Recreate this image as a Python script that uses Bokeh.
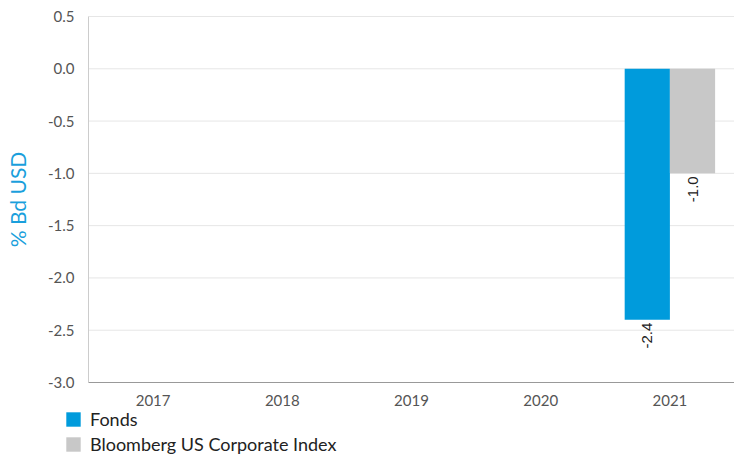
from bokeh.plotting import figure
from bokeh.models import ColumnDataSource, FixedTicker, Legend, LegendItem, CustomJSTickFormatter, Range1d
from bokeh.core.properties import value
from bokeh.embed import file_html
from bokeh.resources import INLINE
import math

years = ["2017", "2018", "2019", "2020", "2021"]
fonds = [float("nan"), float("nan"), float("nan"), float("nan"), -2.4]
index_vals = [float("nan"), float("nan"), float("nan"), float("nan"), -1.0]
y_ticks = [0.5, 0.0, -0.5, -1.0, -1.5, -2.0, -2.5, -3.0]
series_names = ["Fonds", "Bloomberg US Corporate Index"]
colors = ["#009bdc", "#c8c8c8"]

BAR_W = 0.35
centers = [i + 0.5 for i in range(len(years))]
src = ColumnDataSource(dict(
    xc=centers,
    x1=[c - BAR_W / 2 for c in centers],
    x2=[c + BAR_W / 2 for c in centers],
    fonds=fonds, index=index_vals,
    fonds_lbl=["" if math.isnan(v) else f"{v:.1f}" for v in fonds],
    index_lbl=["" if math.isnan(v) else f"{v:.1f}" for v in index_vals],
))

W, H = 734, 455
LEFT_PX, TOP_PX, BOT_PX = 88, 16, 382       # frame positions of category start, 0.5 and -3.0
ymax, ymin = y_ticks[0], y_ticks[-1]
ppu_y = (BOT_PX - TOP_PX) / (ymax - ymin)
ppu_x = (W - LEFT_PX) / len(years)
y_range = Range1d(ymin - (H - BOT_PX) / ppu_y, ymax + TOP_PX / ppu_y)
x_range = Range1d(-LEFT_PX / ppu_x, len(years))

FONT = "Lato"
p = figure(x_range=x_range, y_range=y_range, width=W, height=H,
           output_backend="svg", toolbar_location=None,
           min_border=0, min_border_left=0, min_border_right=0,
           min_border_top=0, min_border_bottom=0)
p.xgrid.visible = False
p.ygrid.visible = False
p.outline_line_color = None

# horizontal grid lines at the tick values
p.segment(x0=0, x1=len(years), y0=y_ticks, y1=y_ticks, line_color="#e6e6e6", line_width=1)

r1 = p.vbar(x="x1", top="fonds", bottom=0, width=BAR_W, source=src,
            fill_color=colors[0], line_color=None)
r2 = p.vbar(x="x2", top="index", bottom=0, width=BAR_W, source=src,
            fill_color=colors[1], line_color=None)

for xcol, col, lbl in (("x1", "fonds", "fonds_lbl"), ("x2", "index", "index_lbl")):
    p.text(x=xcol, y=col, text=lbl, source=src,
           angle=math.pi / 2, text_align="right", text_baseline="middle",
           y_offset=3, text_font=value("Liberation Sans"), text_font_size="15px",
           text_color="#222222")

# axes
p.yaxis.fixed_location = 0
p.yaxis.bounds = (ymin, ymax)
p.yaxis.ticker = FixedTicker(ticks=y_ticks)
p.yaxis.formatter = CustomJSTickFormatter(code="return tick.toFixed(1);")
p.yaxis.axis_label = "% Bd USD"
p.yaxis.axis_label_text_color = "#1a9fdc"
p.yaxis.axis_label_text_font = FONT
p.yaxis.axis_label_text_font_style = "normal"
p.yaxis.axis_label_text_font_size = "21px"
p.yaxis.axis_label_standoff = 15
p.yaxis.axis_line_color = "#cccccc"

p.xaxis.fixed_location = ymin
p.xaxis.bounds = (0, len(years))
p.xaxis.ticker = FixedTicker(ticks=centers)
p.xaxis.major_label_overrides = {c: y for c, y in zip(centers, years)}
p.xaxis.axis_line_color = "#999999"

for ax in (p.xaxis, p.yaxis):
    ax.major_tick_line_color = None
    ax.minor_tick_line_color = None
    ax.major_label_text_font = FONT
    ax.major_label_text_font_size = "15px"
    ax.major_label_text_color = "#555555"
p.yaxis.major_label_standoff = 8
p.xaxis.major_label_standoff = 6

first = next(i for i, v in enumerate(fonds) if not math.isnan(v))
legend = Legend(items=[LegendItem(label=series_names[0], renderers=[r1], index=first),
                       LegendItem(label=series_names[1], renderers=[r2], index=first)],
                orientation="vertical", location=(64, 0),
                label_text_font=FONT, label_text_font_size="18px", label_text_color="#222222",
                glyph_width=18, glyph_height=18, spacing=3, padding=0, margin=0,
                label_standoff=8, border_line_color=None, background_fill_alpha=0,
                label_height=18)
p.add_layout(legend, "center")

html = file_html(p, INLINE)
open("out.html", "w").write(html)
